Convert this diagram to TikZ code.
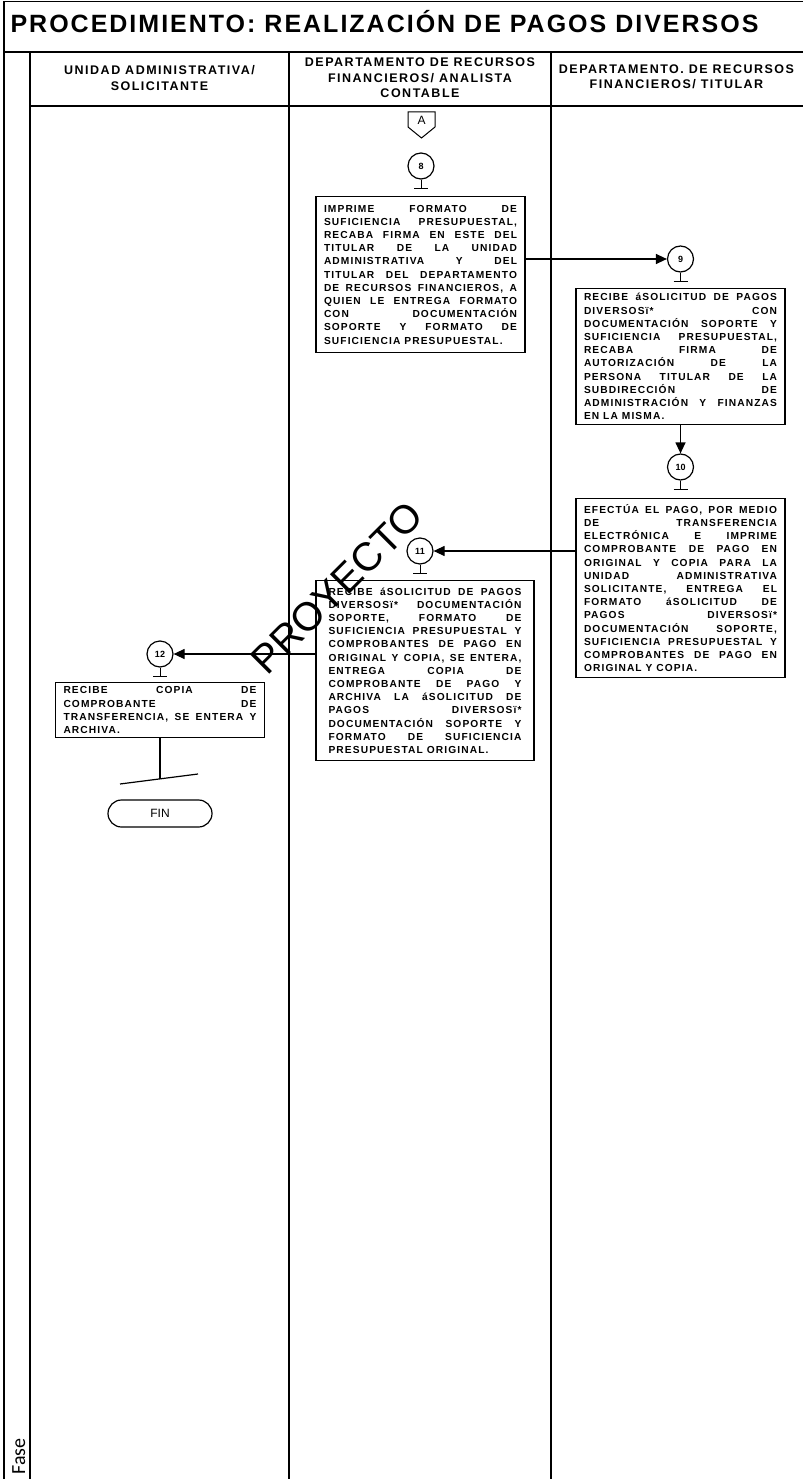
\documentclass[tikz,border=0pt]{standalone}
\usepackage{fontspec}
\setmainfont{Liberation Sans}
\newfontfamily\spaced{Liberation Sans}[LetterSpace=11]
\newfontfamily\headfont{Liberation Sans}[LetterSpace=12]
\newfontfamily\titlefont{Liberation Sans}[LetterSpace=8]
\newfontfamily\carlito{Carlito}
\usetikzlibrary{arrows.meta, positioning}

\begin{document}
\begin{tikzpicture}[x=1pt, y=-1pt, >={Triangle[length=11pt,width=10pt]},
  frame/.style={line width=1.5pt},
  paso/.style={draw, line width=1.2pt, anchor=north, text width=193pt, inner xsep=8pt, inner ysep=3pt, align=justify, font=\spaced\bfseries\fontsize{10.2}{13.2}\selectfont},
  num/.style={draw, circle, line width=1.2pt, minimum size=26pt, inner sep=0pt, font=\bfseries\fontsize{9}{9}\selectfont},
  cabeza/.style={align=center, font=\headfont\bfseries\fontsize{12.5}{15.5}\selectfont},
  flecha/.style={line width=1.2pt, ->}]
\useasboundingbox (0,0) rectangle (803,1479);
\draw[frame] (4,1479) -- (4,1.5) -- (803,1.5);
\draw[frame] (4,52) -- (803,52);
\draw[frame] (30,106) -- (803,106);
\draw[frame] (30,52) -- (30,1479);
\draw[frame] (289,52) -- (289,1479);
\draw[frame] (551,52) -- (551,1479);
\node[anchor=base west, font=\titlefont\bfseries\fontsize{25}{25}\selectfont] (titulo) at (7,33) {PROCEDIMIENTO: REALIZACIÓN DE PAGOS DIVERSOS};
\node[cabeza] (col1) at (159.5,78) {UNIDAD ADMINISTRATIVA/\\SOLICITANTE};
\node[cabeza] (col2) at (420,78) {DEPARTAMENTO DE RECURSOS\\FINANCIEROS/ ANALISTA\\CONTABLE};
\node[cabeza] (col3) at (676.5,77) {DEPARTAMENTO. DE RECURSOS\\FINANCIEROS/ TITULAR};
\draw[line width=1pt] (408,112) -- (435,112) -- (435,127) -- (421.5,138) -- (408,127) -- cycle;
\node[font=\fontsize{12}{12}\selectfont] (conA) at (421.5,120) {A};
\node[num] (c8) at (421,166) {8};
\node[num] (c9) at (680.5,259) {9};
\node[num] (c10) at (680.5,467) {10};
\node[num] (c11) at (420,551) {11};
\node[num] (c12) at (160,654) {12};
\foreach \c in {c8,c9,c10,c11,c12}
  \draw[line width=1pt] (\c.south) -- ++(0,9) ++(-7,0) -- ++(14,0);
\node[paso, minimum height=156pt] (b8) at (420.5,196) {IMPRIME FORMATO DE\linebreak SUFICIENCIA PRESUPUESTAL,\linebreak RECABA FIRMA EN ESTE DEL\linebreak TITULAR DE LA UNIDAD\linebreak ADMINISTRATIVA Y DEL\linebreak TITULAR DEL DEPARTAMENTO\linebreak DE RECURSOS FINANCIEROS, A\linebreak QUIEN LE ENTREGA FORMATO\linebreak CON DOCUMENTACIÓN\linebreak SOPORTE Y FORMATO DE\linebreak SUFICIENCIA PRESUPUESTAL.};
\node[paso, minimum height=136pt] (b9) at (680.5,288) {RECIBE áSOLICITUD DE PAGOS\linebreak DIVERSOSï* CON\linebreak DOCUMENTACIÓN SOPORTE Y\linebreak SUFICIENCIA PRESUPUESTAL,\linebreak RECABA FIRMA DE\linebreak AUTORIZACIÓN DE LA\linebreak PERSONA TITULAR DE LA\linebreak SUBDIRECCIÓN DE\linebreak ADMINISTRACIÓN Y FINANZAS\linebreak EN LA MISMA.};
\node[paso, minimum height=179pt] (b10) at (680.5,498) {EFECTÚA EL PAGO, POR MEDIO\linebreak DE TRANSFERENCIA\linebreak ELECTRÓNICA E IMPRIME\linebreak COMPROBANTE DE PAGO EN\linebreak ORIGINAL Y COPIA PARA LA\linebreak UNIDAD ADMINISTRATIVA\linebreak SOLICITANTE, ENTREGA EL\linebreak FORMATO áSOLICITUD DE\linebreak PAGOS DIVERSOSï*\linebreak DOCUMENTACIÓN SOPORTE,\linebreak SUFICIENCIA PRESUPUESTAL Y\linebreak COMPROBANTES DE PAGO EN\linebreak ORIGINAL Y COPIA.};
\node[paso, minimum height=180pt, minimum width=218pt] (b11) at (425,580) {RECIBE áSOLICITUD DE PAGOS\linebreak DIVERSOSï* DOCUMENTACIÓN\linebreak SOPORTE, FORMATO DE\linebreak SUFICIENCIA PRESUPUESTAL Y\linebreak COMPROBANTES DE PAGO EN\linebreak ORIGINAL Y COPIA, SE ENTERA,\linebreak ENTREGA COPIA DE\linebreak COMPROBANTE DE PAGO Y\linebreak ARCHIVA LA áSOLICITUD DE\linebreak PAGOS DIVERSOSï*\linebreak DOCUMENTACIÓN SOPORTE Y\linebreak FORMATO DE SUFICIENCIA\linebreak PRESUPUESTAL ORIGINAL.};
\node[paso, minimum height=55pt] (b12) at (160,682) {RECIBE COPIA DE\linebreak COMPROBANTE DE\linebreak TRANSFERENCIA, SE ENTERA Y\linebreak ARCHIVA.};
\draw[flecha] (b8.east |- c9.west) -- (c9.west);
\draw[flecha] (b9.south -| c10.north) -- (c10.north);
\draw[flecha] (b10.west |- c11.east) -- (c11.east);
\draw[flecha] (b11.west |- c12.east) -- (c12.east);
\coordinate (finlinea) at (160,779);
\coordinate (corte1) at (120,784);
\coordinate (corte2) at (198,774);
\draw[line width=1.2pt] (b12.south) -- (finlinea);
\draw[line width=1.2pt] (corte1) -- (corte2);
\node[draw, line width=1.2pt, rounded corners=13.5pt, minimum width=104pt, minimum height=27pt, font=\fontsize{12}{12}\selectfont] (fin) at (160,813.5) {FIN};
\node[rotate=45, font=\fontsize{40}{40}\selectfont] (marca) at (337,588) {PROYECTO};
\node[rotate=90, anchor=base west, font=\carlito\fontsize{20}{20}\selectfont] (fase) at (25,1478) {Fase};
\end{tikzpicture}
\end{document}
